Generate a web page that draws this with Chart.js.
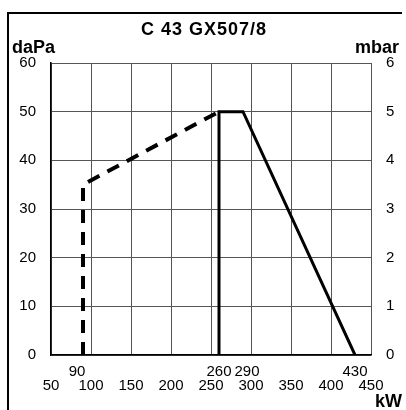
<!DOCTYPE html>
<html>
<head>
<meta charset="utf-8">
<script src="https://cdn.jsdelivr.net/npm/chart.js@4"></script>
<style>
  html, body { margin: 0; padding: 0; background: #fff; }
  canvas { display: block; }
</style>
</head>
<body>
<canvas id="chart" width="406" height="410"></canvas>
<script>
// Working field C 43 GX507/8
const minKW = [90, 90, 260];
const minP = [0, 35, 50];
const maxKW = [260, 260, 290, 430];
const maxP = [0, 50, 50, 0];

const xTicks = [50, 100, 150, 200, 250, 300, 350, 400, 450];
const yTicks = [0, 10, 20, 30, 40, 50, 60];
const mbarTicks = [0, 1, 2, 3, 4, 5, 6];
const markedKW = [90, 260, 290, 430];

const labelsPlugin = {
  id: 'labels',
  afterDraw(chart) {
    const ctx = chart.ctx;
    const x = chart.scales.x;
    const y = chart.scales.y;
    ctx.save();
    ctx.fillStyle = '#000';

    // frame
    ctx.strokeStyle = '#000';
    ctx.lineWidth = 2;
    ctx.beginPath();
    ctx.moveTo(8, 410);
    ctx.lineTo(8, 13);
    ctx.lineTo(402, 13);
    ctx.stroke();

    // titles
    ctx.font = 'bold 18px "Liberation Sans", Arial, sans-serif';
    ctx.textBaseline = 'alphabetic';
    ctx.textAlign = 'center';
    ctx.letterSpacing = '1px';
    ctx.fillText('C 43 GX507/8', 204, 35);
    ctx.letterSpacing = '0px';
    ctx.textAlign = 'left';
    ctx.fillText('daPa', 12, 53);
    ctx.textAlign = 'right';
    ctx.fillText('mbar', 399, 53);
    ctx.fillText('kW', 402, 407);

    // axis labels
    ctx.font = '15px "Liberation Sans", Arial, sans-serif';
    ctx.textBaseline = 'middle';
    ctx.textAlign = 'right';
    yTicks.forEach(v => ctx.fillText(String(v), 36, y.getPixelForValue(v)));
    ctx.textAlign = 'left';
    mbarTicks.forEach(v => ctx.fillText(String(v), 386, y.getPixelForValue(v * 10)));

    ctx.textBaseline = 'alphabetic';
    ctx.textAlign = 'center';
    xTicks.forEach(v => ctx.fillText(String(v), x.getPixelForValue(v), 390));
    markedKW.forEach(v => {
      const shift = v === 90 ? -6 : (v === 290 ? 4 : 0);
      ctx.fillText(String(v), x.getPixelForValue(v) + shift, 376);
    });
    ctx.restore();
  }
};

new Chart(document.getElementById('chart'), {
  type: 'line',
  data: {
    datasets: [
      {
        data: minKW.map((v, i) => ({ x: v, y: minP[i] })),
        borderColor: '#000',
        borderWidth: 4,
        borderDash: [13, 9],
        pointRadius: 0,
        tension: 0
      },
      {
        data: maxKW.map((v, i) => ({ x: v, y: maxP[i] })),
        borderColor: '#000',
        borderWidth: 3,
        pointRadius: 0,
        tension: 0
      }
    ]
  },
  options: {
    responsive: false,
    animation: false,
    layout: {
      padding: { left: 51, right: 35, top: 63, bottom: 55 }
    },
    plugins: {
      legend: { display: false },
      tooltip: { enabled: false }
    },
    scales: {
      x: {
        type: 'linear',
        min: 50,
        max: 450,
        ticks: { display: false, stepSize: 50 },
        grid: { color: '#555', lineWidth: 1, drawTicks: false },
        border: { color: '#000', width: 1.5 }
      },
      y: {
        min: 0,
        max: 60,
        ticks: { display: false, stepSize: 10 },
        grid: { color: '#555', lineWidth: 1, drawTicks: false },
        border: { color: '#000', width: 1.5 }
      }
    }
  },
  plugins: [labelsPlugin]
});
</script>
</body>
</html>
